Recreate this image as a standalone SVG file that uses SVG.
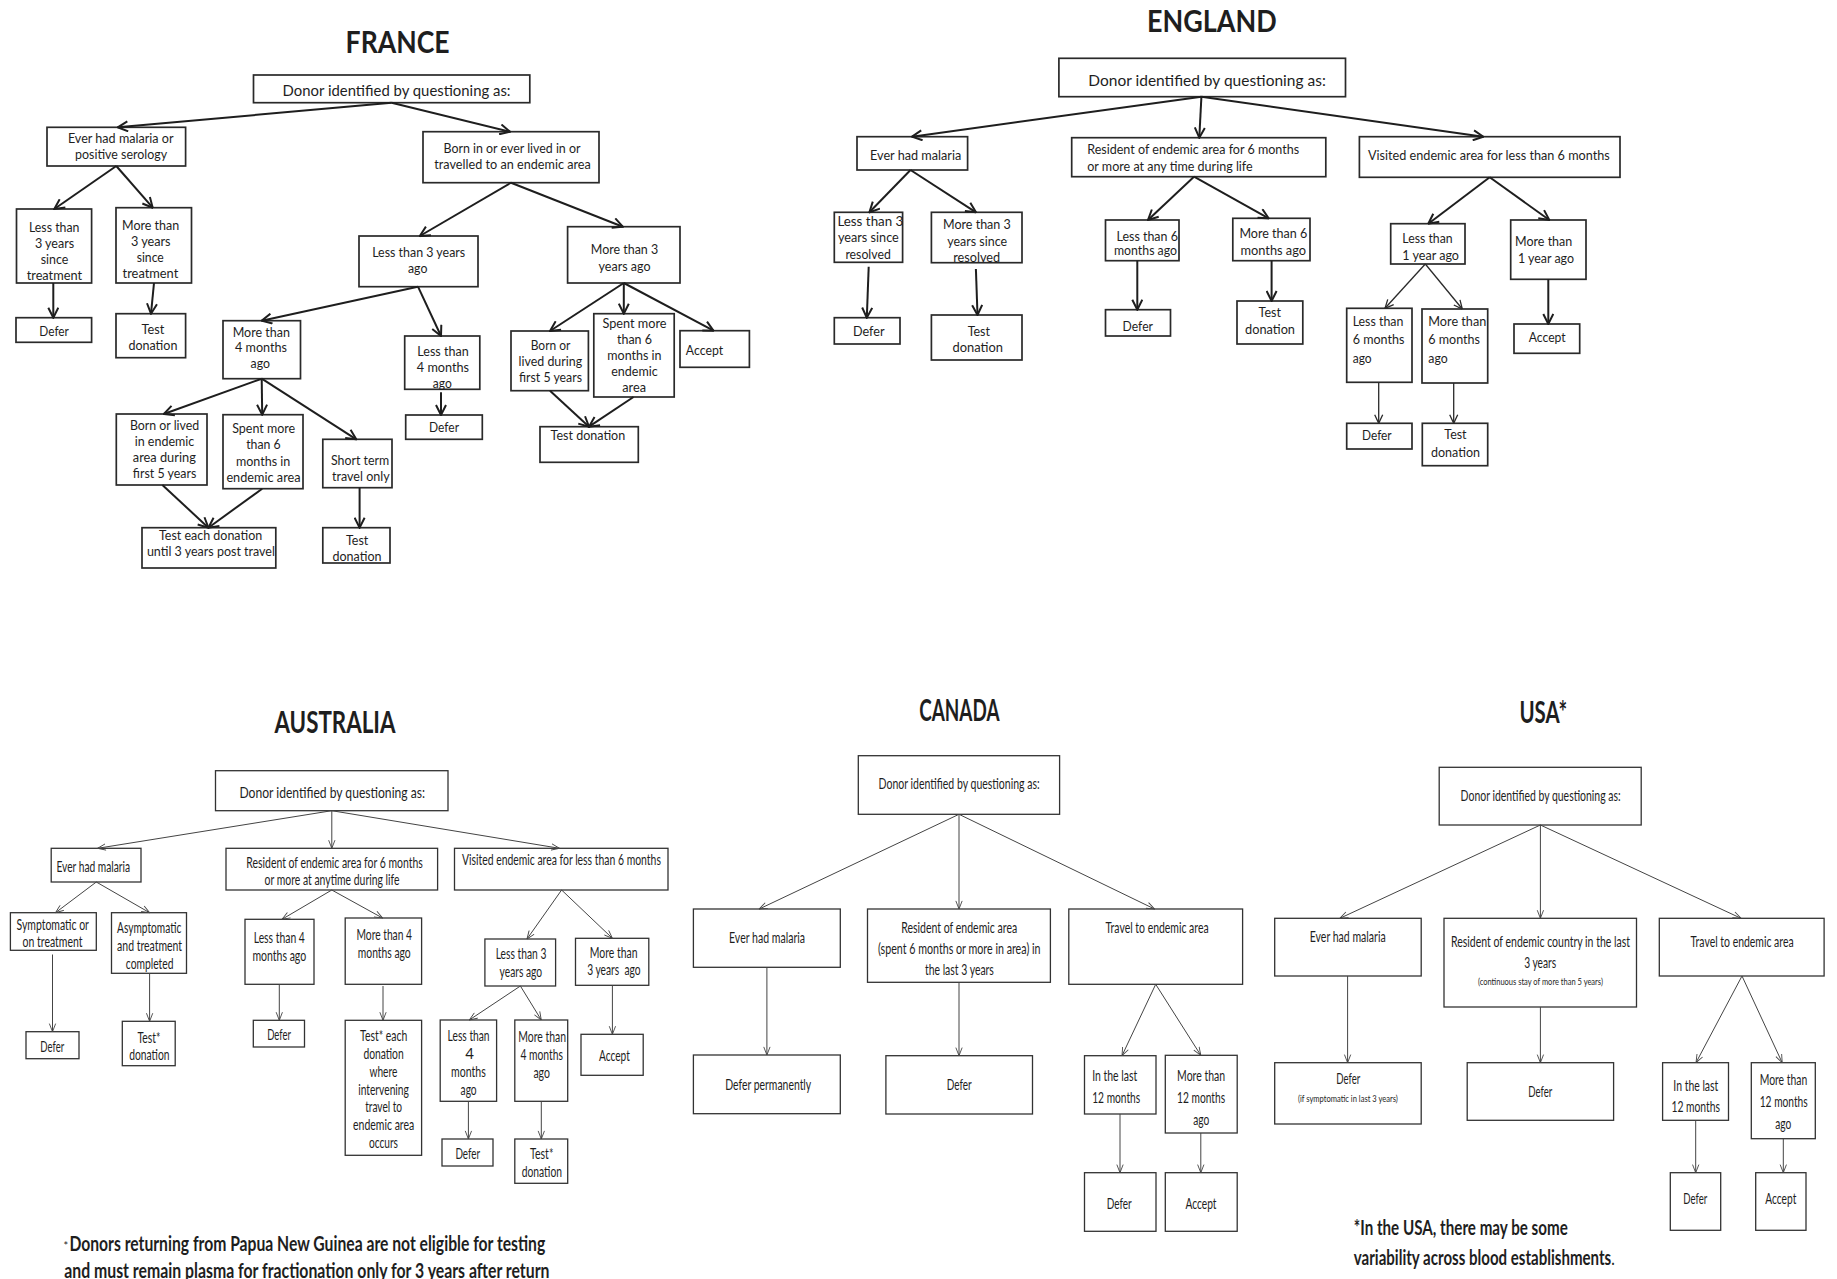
<svg xmlns="http://www.w3.org/2000/svg" width="1837" height="1279" viewBox="0 0 1837 1279">
<style>
rect{fill:#fff}
.b1{stroke:#2a2a2a;stroke-width:1.7}
.b2{stroke:#333;stroke-width:1.3}
text{font-family:Lato,"Liberation Sans",sans-serif;fill:#1e1e1e;dominant-baseline:central}
.f{font-size:13.5px}
.e{font-size:14px}
.d{font-size:16px}
.a{font-size:15px}
.c{font-size:16px}
.s{font-size:10px}
.h{font-size:30px;font-weight:bold}
.n{font-size:20px;font-weight:bold}
.k1{fill:none;stroke:#1e1e1e;stroke-width:2;marker-end:url(#m1)}
.k2{fill:none;stroke:#2a2a2a;stroke-width:1.3;marker-end:url(#m2)}
.k3{fill:none;stroke:#444;stroke-width:1;marker-end:url(#m3)}
</style>
<defs>
<marker id="m1" viewBox="0 0 12 12" refX="11" refY="6" markerWidth="12" markerHeight="12" markerUnits="userSpaceOnUse" orient="auto"><path d="M1,1 L11,6 L1,11" fill="none" stroke="#1e1e1e" stroke-width="2"/></marker>
<marker id="m2" viewBox="0 0 10 10" refX="9.5" refY="5" markerWidth="10" markerHeight="10" markerUnits="userSpaceOnUse" orient="auto"><path d="M1,1 L9.5,5 L1,9" fill="none" stroke="#2a2a2a" stroke-width="1.3"/></marker>
<marker id="m3" viewBox="0 0 10 10" refX="9.5" refY="5" markerWidth="9" markerHeight="9" markerUnits="userSpaceOnUse" orient="auto"><path d="M0.5,1.5 L9.5,5 L0.5,8.5" fill="none" stroke="#444" stroke-width="1"/></marker>
</defs>
<rect x="0" y="0" width="1837" height="1279" style="fill:#fff"/>

<!-- ===== FRANCE ===== -->
<g id="fr-title"><text class="h" x="345.6" y="41" textLength="104" lengthAdjust="spacingAndGlyphs">FRANCE</text></g>
<g id="fr-donor"><rect class="b1" x="253.5" y="75" width="276.3" height="27.7"/><text class="d" x="282.6" y="89" textLength="228" lengthAdjust="spacingAndGlyphs">Donor identified by questioning as:</text></g>
<g id="fr-malaria"><rect class="b1" x="47" y="127.3" width="138.6" height="38.7"/><text class="f" x="67.9" y="138.3" textLength="105.6" lengthAdjust="spacingAndGlyphs">Ever had malaria or</text><text class="f" x="75.1" y="154.3" textLength="92" lengthAdjust="spacingAndGlyphs">positive serology</text></g>
<g id="fr-born"><rect class="b1" x="423" y="131.7" width="176" height="51"/><text class="f" x="443.5" y="148.3" textLength="137" lengthAdjust="spacingAndGlyphs">Born in or ever lived in or</text><text class="f" x="434.3" y="164.3" textLength="156.5" lengthAdjust="spacingAndGlyphs">travelled to an endemic area</text></g>
<g id="fr-lt3t"><rect class="b1" x="16.5" y="209" width="75.1" height="74"/><text class="f" x="29" y="227" textLength="50.4" lengthAdjust="spacingAndGlyphs">Less than</text><text class="f" x="34.9" y="243" textLength="39.3" lengthAdjust="spacingAndGlyphs">3 years</text><text class="f" x="40.7" y="259" textLength="27.6" lengthAdjust="spacingAndGlyphs">since</text><text class="f" x="26.7" y="275" textLength="55.3" lengthAdjust="spacingAndGlyphs">treatment</text></g>
<g id="fr-mt3t"><rect class="b1" x="116" y="207.7" width="75.5" height="75.3"/><text class="f" x="122" y="225" textLength="57.2" lengthAdjust="spacingAndGlyphs">More than</text><text class="f" x="130.9" y="241" textLength="39.7" lengthAdjust="spacingAndGlyphs">3 years</text><text class="f" x="136.7" y="257" textLength="27.1" lengthAdjust="spacingAndGlyphs">since</text><text class="f" x="122.6" y="273" textLength="55.7" lengthAdjust="spacingAndGlyphs">treatment</text></g>
<g id="fr-lt3y"><rect class="b1" x="359" y="236" width="119" height="50.7"/><text class="f" x="372.2" y="252" textLength="93" lengthAdjust="spacingAndGlyphs">Less than 3 years</text><text class="f" x="408" y="268" textLength="19.4" lengthAdjust="spacingAndGlyphs">ago</text></g>
<g id="fr-mt3y"><rect class="b1" x="567.6" y="226.7" width="112.4" height="56.3"/><text class="f" x="590.8" y="249" textLength="67.4" lengthAdjust="spacingAndGlyphs">More than 3</text><text class="f" x="598.6" y="266" textLength="51.9" lengthAdjust="spacingAndGlyphs">years ago</text></g>
<g id="fr-defer1"><rect class="b1" x="16" y="317.7" width="75.6" height="24.6"/><text class="f" x="39.3" y="330.7" textLength="29.6" lengthAdjust="spacingAndGlyphs">Defer</text></g>
<g id="fr-test1"><rect class="b1" x="116" y="313.7" width="69.6" height="44"/><text class="f" x="141.5" y="329.3" textLength="22.8" lengthAdjust="spacingAndGlyphs">Test</text><text class="f" x="128.4" y="345" textLength="49" lengthAdjust="spacingAndGlyphs">donation</text></g>
<g id="fr-mt4m"><rect class="b1" x="223" y="320.7" width="77.5" height="58"/><text class="f" x="232.7" y="331.7" textLength="57.2" lengthAdjust="spacingAndGlyphs">More than</text><text class="f" x="235" y="347.3" textLength="52" lengthAdjust="spacingAndGlyphs">4 months</text><text class="f" x="250.6" y="363.3" textLength="19.4" lengthAdjust="spacingAndGlyphs">ago</text></g>
<g id="fr-lt4m"><rect class="b1" x="404.7" y="336" width="75.1" height="53.3"/><text class="f" x="417.3" y="351" textLength="51.4" lengthAdjust="spacingAndGlyphs">Less than</text><text class="f" x="416.8" y="366.7" textLength="52.3" lengthAdjust="spacingAndGlyphs">4 months</text><text class="f" x="432.8" y="382.7" textLength="19" lengthAdjust="spacingAndGlyphs">ago</text></g>
<g id="fr-defer2"><rect class="b1" x="405.7" y="415" width="76.6" height="24.3"/><text class="f" x="429" y="427.4" textLength="30" lengthAdjust="spacingAndGlyphs">Defer</text></g>
<g id="fr-born5"><rect class="b1" x="511" y="331" width="77.4" height="59.7"/><text class="f" x="530.7" y="345" textLength="39.7" lengthAdjust="spacingAndGlyphs">Born or</text><text class="f" x="518.6" y="361" textLength="63.5" lengthAdjust="spacingAndGlyphs">lived during</text><text class="f" x="519" y="377.3" textLength="63" lengthAdjust="spacingAndGlyphs">first 5 years</text></g>
<g id="fr-spent6"><rect class="b1" x="593.8" y="313.7" width="80.4" height="83.3"/><text class="f" x="602.5" y="323.3" textLength="64" lengthAdjust="spacingAndGlyphs">Spent more</text><text class="f" x="617" y="339.3" textLength="34.9" lengthAdjust="spacingAndGlyphs">than 6</text><text class="f" x="607.3" y="355" textLength="54.3" lengthAdjust="spacingAndGlyphs">months in</text><text class="f" x="611.2" y="371" textLength="46.5" lengthAdjust="spacingAndGlyphs">endemic</text><text class="f" x="622.3" y="387.3" textLength="23.7" lengthAdjust="spacingAndGlyphs">area</text></g>
<g id="fr-accept"><rect class="b1" x="680" y="330.7" width="69.4" height="36.6"/><text class="f" x="685.8" y="350" textLength="37.3" lengthAdjust="spacingAndGlyphs">Accept</text></g>
<g id="fr-test2"><rect class="b1" x="540" y="426.7" width="98.3" height="35.6"/><text class="f" x="550.6" y="435" textLength="74.6" lengthAdjust="spacingAndGlyphs">Test donation</text></g>
<g id="fr-bornlived"><rect class="b1" x="116.3" y="414" width="90.7" height="71"/><text class="f" x="129.9" y="425" textLength="69.3" lengthAdjust="spacingAndGlyphs">Born or lived</text><text class="f" x="134.7" y="441" textLength="59.6" lengthAdjust="spacingAndGlyphs">in endemic</text><text class="f" x="132.8" y="457" textLength="63" lengthAdjust="spacingAndGlyphs">area during</text><text class="f" x="132.8" y="473" textLength="63.5" lengthAdjust="spacingAndGlyphs">first 5 years</text></g>
<g id="fr-spentmore"><rect class="b1" x="223" y="414.7" width="80" height="74"/><text class="f" x="232.2" y="428.3" textLength="63" lengthAdjust="spacingAndGlyphs">Spent more</text><text class="f" x="246.2" y="444.3" textLength="34.4" lengthAdjust="spacingAndGlyphs">than 6</text><text class="f" x="236" y="460.7" textLength="54.3" lengthAdjust="spacingAndGlyphs">months in</text><text class="f" x="226.4" y="476.7" textLength="74.2" lengthAdjust="spacingAndGlyphs">endemic area</text></g>
<g id="fr-short"><rect class="b1" x="322.8" y="439.3" width="69.2" height="48.4"/><text class="f" x="331" y="460.3" textLength="58.2" lengthAdjust="spacingAndGlyphs">Short term</text><text class="f" x="332" y="476.3" textLength="57.7" lengthAdjust="spacingAndGlyphs">travel only</text></g>
<g id="fr-testeach"><rect class="b1" x="142" y="527.7" width="133.8" height="40.3"/><text class="f" x="159" y="535" textLength="103.2" lengthAdjust="spacingAndGlyphs">Test each donation</text><text class="f" x="146.9" y="551" textLength="128" lengthAdjust="spacingAndGlyphs">until 3 years post travel</text></g>
<g id="fr-test3"><rect class="b1" x="322.8" y="527.7" width="67.2" height="35.3"/><text class="f" x="346" y="540" textLength="22.3" lengthAdjust="spacingAndGlyphs">Test</text><text class="f" x="332.5" y="555.7" textLength="49" lengthAdjust="spacingAndGlyphs">donation</text></g>

<!-- ===== ENGLAND ===== -->
<g id="en-title"><text class="h" x="1147" y="19.5" textLength="129.7" lengthAdjust="spacingAndGlyphs">ENGLAND</text></g>
<g id="en-donor"><rect class="b1" x="1058.9" y="58.3" width="286.6" height="38.4"/><text class="d" x="1088.3" y="79" textLength="237.5" lengthAdjust="spacingAndGlyphs">Donor identified by questioning as:</text></g>
<g id="en-malaria"><rect class="b1" x="857" y="136.7" width="110.6" height="33.3"/><text class="f" x="870" y="155" textLength="91.3" lengthAdjust="spacingAndGlyphs">Ever had malaria</text></g>
<g id="en-resident"><rect class="b1" x="1071.7" y="137.7" width="254.1" height="39"/><text class="f" x="1087.2" y="149" textLength="212" lengthAdjust="spacingAndGlyphs">Resident of endemic area for 6 months</text><text class="f" x="1087.2" y="165.7" textLength="165.5" lengthAdjust="spacingAndGlyphs">or more at any time during life</text></g>
<g id="en-visited"><rect class="b1" x="1359.4" y="136.7" width="260.6" height="40.6"/><text class="f" x="1368" y="155" textLength="241.8" lengthAdjust="spacingAndGlyphs">Visited endemic area for less than 6 months</text></g>
<g id="en-lt3r"><rect class="b1" x="834.3" y="212.3" width="68.3" height="50"/><text class="e" x="837.4" y="220.7" textLength="66" lengthAdjust="spacingAndGlyphs">Less than 3</text><text class="e" x="837.9" y="236.7" textLength="60.9" lengthAdjust="spacingAndGlyphs">years since</text><text class="e" x="845.4" y="253.3" textLength="45.4" lengthAdjust="spacingAndGlyphs">resolved</text></g>
<g id="en-mt3r"><rect class="b1" x="931.4" y="212.3" width="90.6" height="50.4"/><text class="e" x="943" y="223.3" textLength="67.8" lengthAdjust="spacingAndGlyphs">More than 3</text><text class="e" x="947.3" y="240" textLength="59.8" lengthAdjust="spacingAndGlyphs">years since</text><text class="e" x="953.2" y="256" textLength="47" lengthAdjust="spacingAndGlyphs">resolved</text></g>
<g id="en-lt6"><rect class="b1" x="1105.5" y="220" width="73.5" height="40.7"/><text class="e" x="1116.5" y="235" textLength="61.4" lengthAdjust="spacingAndGlyphs">Less than 6</text><text class="e" x="1114" y="249.3" textLength="63" lengthAdjust="spacingAndGlyphs">months ago</text></g>
<g id="en-mt6"><rect class="b1" x="1232.8" y="218.3" width="77.2" height="42.4"/><text class="e" x="1239.4" y="232.7" textLength="67.8" lengthAdjust="spacingAndGlyphs">More than 6</text><text class="e" x="1240.4" y="249.3" textLength="65.7" lengthAdjust="spacingAndGlyphs">months ago</text></g>
<g id="en-lt1y"><rect class="b1" x="1390.7" y="223.7" width="74.3" height="40.3"/><text class="e" x="1402.3" y="237.3" textLength="50.3" lengthAdjust="spacingAndGlyphs">Less than</text><text class="e" x="1402.3" y="254" textLength="56.7" lengthAdjust="spacingAndGlyphs">1 year ago</text></g>
<g id="en-mt1y"><rect class="b1" x="1510.7" y="220" width="75.3" height="59.3"/><text class="e" x="1515" y="240.3" textLength="57.3" lengthAdjust="spacingAndGlyphs">More than</text><text class="e" x="1518" y="257" textLength="56" lengthAdjust="spacingAndGlyphs">1 year ago</text></g>
<g id="en-defer1"><rect class="b1" x="834.3" y="317.7" width="65.7" height="26.3"/><text class="e" x="853" y="330" textLength="31.6" lengthAdjust="spacingAndGlyphs">Defer</text></g>
<g id="en-test1"><rect class="b1" x="931.4" y="315" width="90.6" height="45"/><text class="e" x="967.7" y="330" textLength="22.3" lengthAdjust="spacingAndGlyphs">Test</text><text class="e" x="952.5" y="346.7" textLength="50.5" lengthAdjust="spacingAndGlyphs">donation</text></g>
<g id="en-defer2"><rect class="b1" x="1105.5" y="309.7" width="65" height="26.3"/><text class="e" x="1122.6" y="325" textLength="30.4" lengthAdjust="spacingAndGlyphs">Defer</text></g>
<g id="en-test2"><rect class="b1" x="1237" y="301" width="65.8" height="43"/><text class="e" x="1258.6" y="311.7" textLength="22.3" lengthAdjust="spacingAndGlyphs">Test</text><text class="e" x="1245" y="328.3" textLength="50" lengthAdjust="spacingAndGlyphs">donation</text></g>
<g id="en-lt6m"><rect class="b1" x="1346.7" y="308.3" width="65.3" height="74"/><text class="e" x="1352.7" y="320" textLength="50.7" lengthAdjust="spacingAndGlyphs">Less than</text><text class="e" x="1352.7" y="338.7" textLength="51.7" lengthAdjust="spacingAndGlyphs">6 months</text><text class="e" x="1352.7" y="357.3" textLength="19" lengthAdjust="spacingAndGlyphs">ago</text></g>
<g id="en-mt6m"><rect class="b1" x="1422" y="309" width="65.7" height="74"/><text class="e" x="1428.3" y="320" textLength="58" lengthAdjust="spacingAndGlyphs">More than</text><text class="e" x="1428.3" y="338.7" textLength="51.7" lengthAdjust="spacingAndGlyphs">6 months</text><text class="e" x="1428.3" y="357.3" textLength="19.4" lengthAdjust="spacingAndGlyphs">ago</text></g>
<g id="en-defer3"><rect class="b1" x="1346.7" y="423.3" width="65.3" height="25.7"/><text class="e" x="1362" y="434" textLength="29.7" lengthAdjust="spacingAndGlyphs">Defer</text></g>
<g id="en-test3"><rect class="b1" x="1422.3" y="423.3" width="65.4" height="42.4"/><text class="e" x="1444.3" y="433.3" textLength="22.3" lengthAdjust="spacingAndGlyphs">Test</text><text class="e" x="1431" y="451.3" textLength="49" lengthAdjust="spacingAndGlyphs">donation</text></g>
<g id="en-accept"><rect class="b1" x="1514" y="324" width="65.7" height="29.3"/><text class="e" x="1528.7" y="336" textLength="37" lengthAdjust="spacingAndGlyphs">Accept</text></g>

<!-- ===== AUSTRALIA ===== -->
<g id="au-title"><text class="h" x="274.5" y="721" textLength="121" lengthAdjust="spacingAndGlyphs">AUSTRALIA</text></g>
<g id="au-donor"><rect class="b2" x="215.5" y="770.7" width="232.5" height="40"/><text class="c" x="239.4" y="791.7" textLength="185.6" lengthAdjust="spacingAndGlyphs">Donor identified by questioning as:</text></g>
<g id="au-malaria"><rect class="b2" x="51.2" y="848.3" width="89.8" height="33.7"/><text class="a" x="56.4" y="866" textLength="73.7" lengthAdjust="spacingAndGlyphs">Ever had malaria</text></g>
<g id="au-resident"><rect class="b2" x="226" y="848.3" width="211.6" height="41.7"/><text class="a" x="246.3" y="861.7" textLength="176.5" lengthAdjust="spacingAndGlyphs">Resident of endemic area for 6 months</text><text class="a" x="264.6" y="879" textLength="134.9" lengthAdjust="spacingAndGlyphs">or more at anytime during life</text></g>
<g id="au-visited"><rect class="b2" x="454.5" y="848.3" width="213.5" height="41.7"/><text class="a" x="461.9" y="859.3" textLength="199" lengthAdjust="spacingAndGlyphs">Visited endemic area for less than 6 months</text></g>
<g id="au-symp"><rect class="b2" x="10.4" y="912.7" width="85.9" height="37.6"/><text class="a" x="16.5" y="923.7" textLength="72.4" lengthAdjust="spacingAndGlyphs">Symptomatic or</text><text class="a" x="22.6" y="941" textLength="59.9" lengthAdjust="spacingAndGlyphs">on treatment</text></g>
<g id="au-asymp"><rect class="b2" x="111.5" y="912.7" width="75" height="60.6"/><text class="a" x="117.1" y="927" textLength="64.2" lengthAdjust="spacingAndGlyphs">Asymptomatic</text><text class="a" x="117.1" y="945" textLength="65" lengthAdjust="spacingAndGlyphs">and treatment</text><text class="a" x="125.8" y="963" textLength="47.7" lengthAdjust="spacingAndGlyphs">completed</text></g>
<g id="au-lt4"><rect class="b2" x="245" y="919.3" width="69" height="65"/><text class="a" x="253.7" y="937" textLength="51.2" lengthAdjust="spacingAndGlyphs">Less than 4</text><text class="a" x="252.4" y="955.3" textLength="53.8" lengthAdjust="spacingAndGlyphs">months ago</text></g>
<g id="au-mt4"><rect class="b2" x="345.2" y="918" width="76.4" height="66.3"/><text class="a" x="356.5" y="934" textLength="55.5" lengthAdjust="spacingAndGlyphs">More than 4</text><text class="a" x="357.8" y="952" textLength="52.9" lengthAdjust="spacingAndGlyphs">months ago</text></g>
<g id="au-lt3"><rect class="b2" x="484.9" y="939" width="70.7" height="47"/><text class="a" x="495.7" y="953.3" textLength="50.7" lengthAdjust="spacingAndGlyphs">Less than 3</text><text class="a" x="499.6" y="971" textLength="42.5" lengthAdjust="spacingAndGlyphs">years ago</text></g>
<g id="au-mt3"><rect class="b2" x="575.5" y="938.3" width="73.3" height="47"/><text class="a" x="589.8" y="951.7" textLength="47.7" lengthAdjust="spacingAndGlyphs">More than</text><text class="a" x="587.2" y="969.3" textLength="53.3" lengthAdjust="spacingAndGlyphs" style="white-space:pre">3 years  ago</text></g>
<g id="au-defer1"><rect class="b2" x="26" y="1031.7" width="53" height="27"/><text class="a" x="40.3" y="1045.7" textLength="23.9" lengthAdjust="spacingAndGlyphs">Defer</text></g>
<g id="au-test1"><rect class="b2" x="122.3" y="1021.3" width="52.9" height="44.4"/><text class="a" x="137.5" y="1036.7" textLength="23" lengthAdjust="spacingAndGlyphs">Test*</text><text class="a" x="129.2" y="1054.3" textLength="40.3" lengthAdjust="spacingAndGlyphs">donation</text></g>
<g id="au-defer2"><rect class="b2" x="253.3" y="1020.3" width="51.2" height="26.7"/><text class="a" x="267.2" y="1034.3" textLength="23.8" lengthAdjust="spacingAndGlyphs">Defer</text></g>
<g id="au-testeach"><rect class="b2" x="345.2" y="1020.3" width="76.4" height="135"/><text class="a" x="360" y="1034.7" textLength="47.3" lengthAdjust="spacingAndGlyphs">Test* each</text><text class="a" x="363.4" y="1052.7" textLength="40.3" lengthAdjust="spacingAndGlyphs">donation</text><text class="a" x="369.5" y="1070.7" textLength="27.8" lengthAdjust="spacingAndGlyphs">where</text><text class="a" x="358.2" y="1088.7" textLength="50.7" lengthAdjust="spacingAndGlyphs">intervening</text><text class="a" x="365.2" y="1106.3" textLength="36.9" lengthAdjust="spacingAndGlyphs">travel to</text><text class="a" x="353" y="1124" textLength="61.2" lengthAdjust="spacingAndGlyphs">endemic area</text><text class="a" x="369" y="1142" textLength="29" lengthAdjust="spacingAndGlyphs">occurs</text></g>
<g id="au-lt4b"><rect class="b2" x="440.2" y="1020" width="56.4" height="81.3"/><text class="a" x="447.6" y="1034.7" textLength="42" lengthAdjust="spacingAndGlyphs">Less than</text><text class="a" x="465.3" y="1052.7">4</text><text class="a" x="451" y="1070.7" textLength="34.7" lengthAdjust="spacingAndGlyphs">months</text><text class="a" x="460.6" y="1088.7" textLength="16" lengthAdjust="spacingAndGlyphs">ago</text></g>
<g id="au-mt4b"><rect class="b2" x="514.8" y="1020" width="52.9" height="81.3"/><text class="a" x="518.3" y="1035.7" textLength="47.7" lengthAdjust="spacingAndGlyphs">More than</text><text class="a" x="520.4" y="1053.7" textLength="42.5" lengthAdjust="spacingAndGlyphs">4 months</text><text class="a" x="533.4" y="1072" textLength="16.5" lengthAdjust="spacingAndGlyphs">ago</text></g>
<g id="au-defer3"><rect class="b2" x="442" y="1139" width="51" height="27"/><text class="a" x="455.4" y="1153.3" textLength="24.7" lengthAdjust="spacingAndGlyphs">Defer</text></g>
<g id="au-test2"><rect class="b2" x="514.8" y="1139" width="52.9" height="44.3"/><text class="a" x="530" y="1153.3" textLength="23.4" lengthAdjust="spacingAndGlyphs">Test*</text><text class="a" x="521.7" y="1171" textLength="40.3" lengthAdjust="spacingAndGlyphs">donation</text></g>
<g id="au-accept"><rect class="b2" x="581" y="1034.3" width="62.2" height="41" /><text class="a" x="599" y="1055.3" textLength="30.8" lengthAdjust="spacingAndGlyphs">Accept</text></g>
<g id="au-note"><text x="63.5" y="1245" style="font-size:11px">*</text><text class="n" x="69.4" y="1243" textLength="475.8" lengthAdjust="spacingAndGlyphs">Donors returning from Papua New Guinea are not eligible for testing</text><text class="n" x="64.2" y="1270" textLength="485.3" lengthAdjust="spacingAndGlyphs">and must remain plasma for fractionation only for 3 years after return</text></g>

<!-- ===== CANADA ===== -->
<g id="ca-title"><text class="h" x="919.2" y="709" textLength="80.3" lengthAdjust="spacingAndGlyphs">CANADA</text></g>
<g id="ca-donor"><rect class="b2" x="858.3" y="755.7" width="201.3" height="58.6"/><text class="c" x="878.6" y="782.7" textLength="161" lengthAdjust="spacingAndGlyphs">Donor identified by questioning as:</text></g>
<g id="ca-malaria"><rect class="b2" x="693.4" y="909" width="146.9" height="58.3"/><text class="c" x="729" y="936.7" textLength="76" lengthAdjust="spacingAndGlyphs">Ever had malaria</text></g>
<g id="ca-resident"><rect class="b2" x="867.5" y="909" width="182.9" height="73.3"/><text class="c" x="901.2" y="926" textLength="116" lengthAdjust="spacingAndGlyphs">Resident of endemic area</text><text class="c" x="877.9" y="947.7" textLength="162.6" lengthAdjust="spacingAndGlyphs">(spent 6 months or more in area) in</text><text class="c" x="924.9" y="968.7" textLength="69" lengthAdjust="spacingAndGlyphs">the last 3 years</text></g>
<g id="ca-travel"><rect class="b2" x="1068.8" y="909" width="173.8" height="75.3"/><text class="c" x="1105.6" y="926" textLength="103" lengthAdjust="spacingAndGlyphs">Travel to endemic area</text></g>
<g id="ca-deferp"><rect class="b2" x="693.4" y="1055" width="146.9" height="58.7"/><text class="c" x="725.2" y="1083.3" textLength="86" lengthAdjust="spacingAndGlyphs">Defer permanently</text></g>
<g id="ca-defer"><rect class="b2" x="885.9" y="1055.7" width="146.6" height="58.3"/><text class="c" x="946.7" y="1083.3" textLength="25" lengthAdjust="spacingAndGlyphs">Defer</text></g>
<g id="ca-inlast"><rect class="b2" x="1084.5" y="1055.7" width="71.5" height="58.3"/><text class="c" x="1092.2" y="1074.3" textLength="45" lengthAdjust="spacingAndGlyphs">In the last</text><text class="c" x="1092.2" y="1096.3" textLength="48" lengthAdjust="spacingAndGlyphs">12 months</text></g>
<g id="ca-more"><rect class="b2" x="1165.3" y="1055.3" width="71.9" height="77.7"/><text class="c" x="1177.1" y="1074.3" textLength="48" lengthAdjust="spacingAndGlyphs">More than</text><text class="c" x="1177.1" y="1096.3" textLength="48" lengthAdjust="spacingAndGlyphs">12 months</text><text class="c" x="1193.2" y="1118.3" textLength="16" lengthAdjust="spacingAndGlyphs">ago</text></g>
<g id="ca-defer2"><rect class="b2" x="1084.5" y="1172.7" width="71.5" height="58.6"/><text class="c" x="1106.7" y="1202.3" textLength="25" lengthAdjust="spacingAndGlyphs">Defer</text></g>
<g id="ca-accept"><rect class="b2" x="1165.3" y="1172.7" width="71.9" height="58.6"/><text class="c" x="1185.5" y="1202.3" textLength="31" lengthAdjust="spacingAndGlyphs">Accept</text></g>

<!-- ===== USA ===== -->
<g id="us-title"><text class="h" x="1519.4" y="711" textLength="47.8" lengthAdjust="spacingAndGlyphs">USA*</text></g>
<g id="us-donor"><rect class="b2" x="1439.2" y="767.3" width="202" height="57.7"/><text class="c" x="1460.6" y="794" textLength="160" lengthAdjust="spacingAndGlyphs">Donor identified by questioning as:</text></g>
<g id="us-malaria"><rect class="b2" x="1274.7" y="918.3" width="146.5" height="57.7"/><text class="c" x="1309.7" y="935" textLength="76" lengthAdjust="spacingAndGlyphs">Ever had malaria</text></g>
<g id="us-resident"><rect class="b2" x="1444" y="918.3" width="192.5" height="88.7"/><text class="c" x="1451" y="940" textLength="179" lengthAdjust="spacingAndGlyphs">Resident of endemic country in the last</text><text class="c" x="1524.2" y="961.7" textLength="32" lengthAdjust="spacingAndGlyphs">3 years</text><text class="s" x="1477.9" y="980.5" textLength="125" lengthAdjust="spacingAndGlyphs">(continuous stay of more than 5 years)</text></g>
<g id="us-travel"><rect class="b2" x="1659.3" y="918.3" width="164.8" height="57.7"/><text class="c" x="1690.6" y="940" textLength="103" lengthAdjust="spacingAndGlyphs">Travel to endemic area</text></g>
<g id="us-defer1"><rect class="b2" x="1274.7" y="1062.7" width="146.5" height="61.3"/><text class="c" x="1336.2" y="1077.5" textLength="24" lengthAdjust="spacingAndGlyphs">Defer</text><text class="s" x="1297.9" y="1097.5" textLength="100" lengthAdjust="spacingAndGlyphs">(if symptomatic in last 3 years)</text></g>
<g id="us-defer2"><rect class="b2" x="1467.2" y="1062.7" width="146.4" height="57.6"/><text class="c" x="1528.3" y="1090" textLength="24" lengthAdjust="spacingAndGlyphs">Defer</text></g>
<g id="us-inlast"><rect class="b2" x="1662.6" y="1062.7" width="65.9" height="57.6"/><text class="c" x="1673.3" y="1084" textLength="45" lengthAdjust="spacingAndGlyphs">In the last</text><text class="c" x="1671.4" y="1105.3" textLength="48.6" lengthAdjust="spacingAndGlyphs">12 months</text></g>
<g id="us-more"><rect class="b2" x="1751.3" y="1062.7" width="64" height="76"/><text class="c" x="1759.7" y="1078.7" textLength="47.5" lengthAdjust="spacingAndGlyphs">More than</text><text class="c" x="1759.7" y="1100.7" textLength="48" lengthAdjust="spacingAndGlyphs">12 months</text><text class="c" x="1775.2" y="1122.3" textLength="16" lengthAdjust="spacingAndGlyphs">ago</text></g>
<g id="us-defer3"><rect class="b2" x="1670.3" y="1172.7" width="50.4" height="57.6"/><text class="c" x="1683.2" y="1197.3" textLength="24" lengthAdjust="spacingAndGlyphs">Defer</text></g>
<g id="us-accept"><rect class="b2" x="1755.7" y="1172.7" width="50.3" height="57.6"/><text class="c" x="1765.3" y="1197.3" textLength="31" lengthAdjust="spacingAndGlyphs">Accept</text></g>
<g id="us-note"><text class="n" x="1353.8" y="1226.7" textLength="214" lengthAdjust="spacingAndGlyphs">*In the USA, there may be some</text><text class="n" x="1353.8" y="1256.7" textLength="261" lengthAdjust="spacingAndGlyphs">variability across blood establishments<tspan style="font-weight:normal">.</tspan></text></g>

<!-- ===== CONNECTORS ===== -->
<g id="connectors">
<g id="fr-edges">
<path class="k1" d="M391.6,102.7 L117.8,127.3"/>
<path class="k1" d="M391.6,102.7 L510,131.7"/>
<path class="k1" d="M116.3,166 L54.3,209"/>
<path class="k1" d="M116.3,166 L152.7,207.7"/>
<path class="k1" d="M511,182.7 L419.8,236"/>
<path class="k1" d="M511,182.7 L622.8,226.7"/>
<path class="k1" d="M53.3,283 L53.3,317.7"/>
<path class="k1" d="M154,283 L151,313.7"/>
<path class="k1" d="M417.8,286.7 L261.7,320.7"/>
<path class="k1" d="M418,286.7 L441,336"/>
<path class="k1" d="M441,392.3 L441,415"/>
<path class="k1" d="M623.8,283 L550,331"/>
<path class="k1" d="M623.8,283 L623.8,313.7"/>
<path class="k1" d="M623.8,283 L713.5,330.7"/>
<path class="k1" d="M550,390.7 L589,426.7"/>
<path class="k1" d="M633.5,397 L589,426.7"/>
<path class="k1" d="M261.7,378.7 L163.8,414"/>
<path class="k1" d="M261.7,378.7 L262.2,414.7"/>
<path class="k1" d="M261.7,378.7 L356.3,439.3"/>
<path class="k1" d="M162.4,485 L208.4,527.7"/>
<path class="k1" d="M262.2,488.7 L208.4,527.7"/>
<path class="k1" d="M359.6,487.7 L359.6,527.7"/>
</g>
<g id="en-edges">
<path class="k1" d="M1201.4,96.7 L912,136.7"/>
<path class="k1" d="M1201.4,96.7 L1199.3,137.7"/>
<path class="k1" d="M1201.4,96.7 L1483.3,136.7"/>
<path class="k1" d="M910.5,170 L869.4,212.3"/>
<path class="k1" d="M910.5,170 L976,212.3"/>
<path class="k1" d="M1194,176.7 L1148,220"/>
<path class="k1" d="M1194,176.7 L1268.7,218.3"/>
<path class="k1" d="M1489.7,177.3 L1428.3,223.7"/>
<path class="k1" d="M1489.7,177.3 L1549.3,220"/>
<path class="k1" d="M868.7,266.7 L866.8,317.7"/>
<path class="k1" d="M975.9,269 L977.5,315"/>
<path class="k1" d="M1137.3,260.7 L1137.3,309.7"/>
<path class="k1" d="M1271.6,260.7 L1271.6,301"/>
<path class="k1" d="M1548.3,279.3 L1548.3,324"/>
<path class="k2" d="M1425.3,264 L1385,308.3"/>
<path class="k2" d="M1425.3,264 L1462.3,309"/>
<path class="k2" d="M1378.7,382.3 L1378.7,423.3"/>
<path class="k2" d="M1453.7,383 L1453.7,423.3"/>
</g>
<g id="au-edges">
<path class="k3" d="M331.8,810.7 L97.6,848.3"/>
<path class="k3" d="M331.8,810.7 L331.8,848.3"/>
<path class="k3" d="M331.8,810.7 L559.5,848.3"/>
<path class="k3" d="M96.3,882 L55.5,912.7"/>
<path class="k3" d="M96.3,882 L149.6,912.7"/>
<path class="k3" d="M331.8,890 L282,919.3"/>
<path class="k3" d="M331.8,890 L382.5,918"/>
<path class="k3" d="M561.6,890 L527,939"/>
<path class="k3" d="M561.6,890 L612.4,938.3"/>
<path class="k3" d="M52.5,954.5 L52.5,1031.7"/>
<path class="k3" d="M149.6,973.3 L149.6,1021.3"/>
<path class="k3" d="M279.3,984.3 L279.3,1020.3"/>
<path class="k3" d="M383,986 L383,1020.3"/>
<path class="k3" d="M520.4,986 L469.3,1020"/>
<path class="k3" d="M520.4,986 L541.3,1020"/>
<path class="k3" d="M468.4,1101.3 L468.4,1139"/>
<path class="k3" d="M541.3,1101.3 L541.3,1139"/>
<path class="k3" d="M612.4,985.3 L612.4,1034.3"/>
</g>
<g id="ca-edges">
<path class="k3" d="M959,814.3 L759.2,909"/>
<path class="k3" d="M959,814.3 L959,909"/>
<path class="k3" d="M959,814.3 L1154.5,909"/>
<path class="k3" d="M766.9,967.3 L766.9,1055"/>
<path class="k3" d="M959,982.3 L959,1055.7"/>
<path class="k3" d="M1155.7,984.3 L1122,1055.7"/>
<path class="k3" d="M1155.7,984.3 L1200.8,1055.3"/>
<path class="k3" d="M1120,1114 L1120,1172.7"/>
<path class="k3" d="M1200.8,1133 L1200.8,1172.7"/>
</g>
<g id="us-edges">
<path class="k3" d="M1540.4,825 L1339.9,918.3"/>
<path class="k3" d="M1540.4,825 L1540.4,918.3"/>
<path class="k3" d="M1540.4,825 L1741,918.3"/>
<path class="k3" d="M1347.6,976 L1347.6,1062.7"/>
<path class="k3" d="M1540.4,1007 L1540.4,1062.7"/>
<path class="k3" d="M1742,976 L1696,1062.7"/>
<path class="k3" d="M1742,976 L1782.2,1062.7"/>
<path class="k3" d="M1695.7,1120.3 L1695.7,1172.7"/>
<path class="k3" d="M1783.3,1138.7 L1783.3,1172.7"/>
</g>
</g>
</svg>
